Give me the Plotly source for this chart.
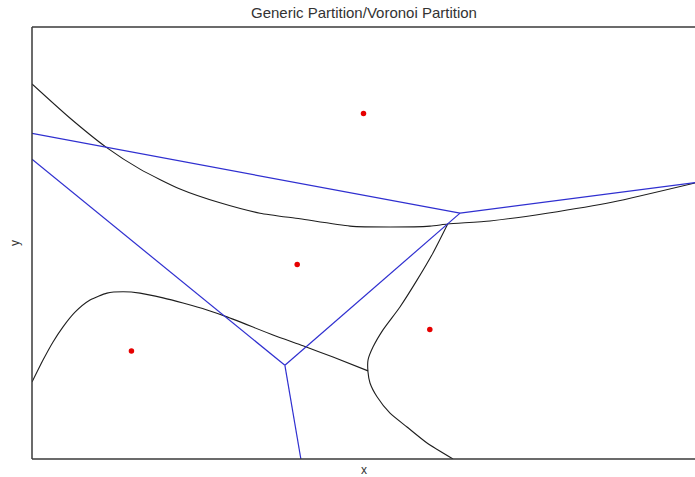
import numpy as np
import plotly.graph_objects as go

# Generating sites
site_x = [50, 40, 60, 15]
site_y = [80, 45, 30, 25]

# Boundaries of the generic partition (traced curves)
upper_x = [0, 5.58, 11.16, 16.29, 22.32, 28.36, 34.39, 40.42, 47.96, 54.0, 60.03, 62.7,
           69.08, 77.68, 87.63, 100]
upper_y = [86.8, 79.1, 72.2, 67.1, 62.5, 59.3, 56.9, 55.6, 53.9, 53.7, 53.9, 54.4,
           55.1, 56.9, 59.5, 63.9]

right_x = [62.7, 60.48, 58.07, 55.5, 52.94, 51.43, 50.68, 50.68, 50.98, 52.04, 54.0,
           56.56, 59.58, 63.5]
right_y = [54.4, 47.7, 41.4, 35.2, 29.9, 25.9, 22.9, 20.1, 17.6, 14.4, 10.6, 7.4, 3.7, 0]

lower_x = [0, 1.66, 3.17, 4.68, 6.49, 8.75, 11.31, 13.73, 16.29, 19.76, 22.78, 26.4,
           29.41, 36.35, 40.87, 45.4, 50.68]
lower_y = [17.8, 22.9, 27.1, 30.6, 34.0, 36.8, 38.4, 38.7, 38.4, 37.3, 36.1, 34.5,
           32.9, 28.7, 26.2, 23.6, 20.4]

X_RANGE = [0, 100]
Y_RANGE = [0, 100]


def voronoi_edges(xs, ys, xr, yr):
    """Voronoi edges of the sites, clipped to the rectangle xr x yr."""
    P = np.column_stack([xs, ys]).astype(float)
    n = len(P)
    ex, ey = [], []
    for i in range(n):
        for j in range(i + 1, n):
            pi, pj = P[i], P[j]
            m = (pi + pj) / 2
            v = pj - pi
            d = np.array([-v[1], v[0]])
            lo, hi = -np.inf, np.inf
            cons = []
            for k in range(n):
                if k in (i, j):
                    continue
                pk = P[k]
                a = 2 * (pk - pi)
                c = pk @ pk - pi @ pi
                cons.append((a @ d, c - a @ m))
            # rectangle
            cons += [(-d[0], m[0] - xr[0]), (d[0], xr[1] - m[0]),
                     (-d[1], m[1] - yr[0]), (d[1], yr[1] - m[1])]
            ok = True
            for a, b in cons:
                if abs(a) < 1e-12:
                    if b < 0:
                        ok = False
                    continue
                t = b / a
                if a > 0:
                    hi = min(hi, t)
                else:
                    lo = max(lo, t)
            if ok and lo < hi:
                p0 = m + lo * d
                p1 = m + hi * d
                ex += [p0[0], p1[0], None]
                ey += [p0[1], p1[1], None]
    return ex, ey


vx, vy = voronoi_edges(site_x, site_y, X_RANGE, Y_RANGE)

fig = go.Figure()

curve_style = dict(color="#1e1e1e", width=1.1, shape="spline", smoothing=0.6)
for cx, cy in [(upper_x, upper_y), (right_x, right_y), (lower_x, lower_y)]:
    fig.add_trace(go.Scatter(x=cx, y=cy, mode="lines", line=curve_style,
                             hoverinfo="skip", showlegend=False))

fig.add_trace(go.Scatter(x=vx, y=vy, mode="lines",
                         line=dict(color="#2f2fd0", width=1.2),
                         hoverinfo="skip", showlegend=False))

fig.add_trace(go.Scatter(x=site_x, y=site_y, mode="markers",
                         marker=dict(color="#e60000", size=5.5, line=dict(width=0)),
                         showlegend=False))

frame = dict(type="line", xref="paper", yref="paper",
             line=dict(color="#3a3a3a", width=1.5))
fig.add_shape(x0=0, x1=0, y0=0, y1=1, **frame)
fig.add_shape(x0=0, x1=1, y0=1, y1=1, **frame)
fig.add_shape(x0=0, x1=1, y0=0, y1=0, **frame)

label_font = dict(family="Liberation Sans, Arial, sans-serif", color="#333333")
fig.add_annotation(text="Generic Partition/Voronoi Partition", xref="paper", yref="paper",
                   x=0.5, y=1, yshift=15, yanchor="middle", showarrow=False,
                   font=dict(size=15, **label_font))
fig.add_annotation(text="x", xref="paper", yref="paper", x=0.5, y=0, yshift=-11,
                   yanchor="middle", showarrow=False,
                   font=dict(size=12, **label_font))
fig.add_annotation(text="y", xref="paper", yref="paper", x=0, xshift=-17, y=0.5,
                   xanchor="center", yanchor="middle", textangle=-90, showarrow=False,
                   font=dict(size=12, **label_font))

fig.update_layout(
    width=695, height=477,
    margin=dict(l=32, r=0, t=27, b=18),
    paper_bgcolor="white", plot_bgcolor="white",
    xaxis=dict(range=X_RANGE, visible=False, fixedrange=True),
    yaxis=dict(range=Y_RANGE, visible=False, fixedrange=True),
)

fig.write_html("out.html")
